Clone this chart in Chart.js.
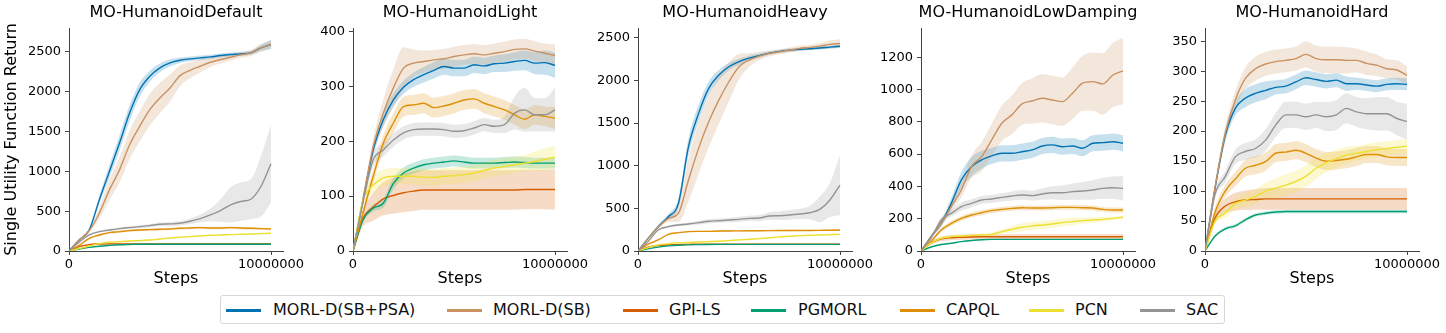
<!DOCTYPE html>
<html><head><meta charset="utf-8">
<script src="https://cdn.jsdelivr.net/npm/chart.js@4.4.1/dist/chart.umd.min.js"></script>
<style>
html,body{margin:0;padding:0;background:#fff;}
body{width:1446px;height:333px;overflow:hidden;position:relative;font-family:'DejaVu Sans',sans-serif;}
canvas{position:absolute;top:0;}
#legend{position:absolute;left:220px;top:295px;width:1005px;height:29px;border:1px solid #d6d6d6;border-radius:3px;background:#fff;box-sizing:border-box;}
.lg-line{position:absolute;height:3px;width:35px;top:13px;}
.lg-text{position:absolute;top:3px;font-size:16px;line-height:22px;color:#111;white-space:nowrap;}
</style>
</head><body>
<div id="legend"></div>
<script>
// ---------- data ----------
const steps = [0,500000,1000000,1500000,2000000,2500000,3000000,3500000,4000000,4500000,5000000,5500000,6000000,6500000,7000000,7500000,8000000,8500000,9000000,9500000,10000000];
const xTicks = [0, 10000000];
const seriesNames = ['MORL-D(SB+PSA)','MORL-D(SB)','GPI-LS','PGMORL','CAPQL','PCN','SAC'];
const seriesColors = ['#0173b2','#ca9161','#d55e00','#029e73','#de8f05','#ece133','#949494'];
const panelTitles = ['MO-HumanoidDefault','MO-HumanoidLight','MO-HumanoidHeavy','MO-HumanoidLowDamping','MO-HumanoidHard'];
const yTicksDefault = [0,500,1000,1500,2000,2500];
const yTicksLight = [0,100,200,300,400];
const yTicksHeavy = [0,500,1000,1500,2000,2500];
const yTicksLowDamping = [0,200,400,600,800,1000,1200];
const yTicksHard = [0,50,100,150,200,250,300,350];
const yMaxDefault = 2800, yMaxLight = 406, yMaxHeavy = 2614, yMaxLowDamping = 1381, yMaxHard = 372;
const xMax = 10594000;

// MO-HumanoidDefault (mean, half-band)
const def_SBPSA    = [0,138,264,642,998,1355,1732,2026,2194,2299,2362,2395,2412,2425,2437,2454,2467,2475,2488,2550,2593];
const def_SBPSA_sd = [0,10,20,50,80,100,100,90,70,55,45,35,30,30,28,25,25,25,25,40,60];
const def_SB       = [0,135,255,474,768,1019,1334,1565,1774,1921,2047,2202,2269,2320,2370,2404,2433,2462,2488,2550,2593];
const def_SB_sd    = [0,10,25,70,130,160,180,190,200,190,170,130,100,80,60,50,45,40,40,50,50];
const def_GPI      = [0,55,80,88,90,90,90,90,90,90,90,90,90,90,90,90,90,90,90,90,90];
const def_GPI_sd   = [0,8,10,12,12,12,12,12,12,12,12,12,12,12,12,12,12,12,12,12,12];
const def_PGM      = [0,25,45,60,70,78,82,85,85,85,85,85,85,85,85,85,85,85,85,85,85];
const def_PGM_sd   = [0,3,4,4,4,4,4,4,4,4,4,4,4,4,4,4,4,4,4,4,4];
const def_CAP      = [0,70,159,201,231,243,256,264,268,273,277,285,289,294,289,289,294,289,285,281,277];
const def_CAP_sd   = [0,8,12,15,15,15,15,15,15,15,15,15,15,15,15,15,15,15,15,15,15];
const def_PCN      = [0,30,63,92,109,117,126,130,138,151,164,172,180,189,197,201,206,210,214,218,222];
const def_PCN_sd   = [0,6,8,10,12,12,12,12,12,12,10,10,10,10,8,8,8,8,8,8,8];
const def_SAC      = [0,110,201,243,264,281,294,306,319,336,340,348,373,407,453,508,579,621,650,810,1095];
const def_SAC_sd   = [0,5,10,12,15,15,18,18,20,22,25,28,35,50,80,140,220,240,250,380,490];

// MO-HumanoidLight
const lig_SBPSA    = [0,93,184,239,275,298,312,321,329,336,333,333,339,337,341,342,345,347,342,343,338];
const lig_SBPSA_sd = [0,5,10,12,12,12,13,14,15,15,15,15,15,15,15,16,17,18,20,22,23];
const lig_SB       = [0,95,190,251,297,333,342,345,348,350,354,357,359,357,360,363,367,368,364,360,356];
const lig_SB_sd    = [0,8,15,25,35,38,25,20,18,18,18,18,18,18,18,18,18,18,18,18,20];
const lig_GPI      = [0,60,80,95,101,106,109,111,111,111,111,111,111,111,111,111,111,112,112,112,112];
const lig_GPI_sd   = [0,15,25,30,33,35,36,36,36,36,36,36,36,36,36,36,36,36,36,36,37];
const lig_PGM      = [0,57,78,87,123,142,151,157,160,162,164,162,160,160,160,161,162,161,160,160,160];
const lig_PGM_sd   = [0,4,6,8,10,10,10,10,10,10,10,10,10,10,10,10,10,10,10,10,10];
const lig_CAP      = [0,70,136,196,233,263,266,269,261,264,269,275,277,269,263,257,248,240,248,245,242];
const lig_CAP_sd   = [0,8,12,15,18,18,18,18,18,18,18,18,18,18,18,18,18,18,18,18,20];
const lig_PCN      = [0,93,120,133,136,136,136,134,134,136,137,139,142,147,151,154,157,160,163,167,171];
const lig_PCN_sd   = [0,10,15,15,15,15,15,15,15,15,15,15,15,15,15,15,15,15,18,20,20];
const lig_SAC      = [0,90,166,184,202,215,221,222,222,221,218,219,224,230,227,230,251,257,248,248,257];
const lig_SAC_sd   = [0,8,12,12,12,12,12,12,12,12,12,12,12,12,12,15,30,40,30,30,40];

// MO-HumanoidHeavy
const hea_SBPSA    = [0,148,285,402,558,1223,1613,1906,2062,2160,2219,2260,2290,2320,2340,2355,2363,2371,2379,2390,2400];
const hea_SBPSA_sd = [0,10,20,30,60,100,100,80,60,45,35,30,25,20,20,18,18,18,18,18,20];
const hea_SB       = [0,145,280,380,441,832,1203,1515,1769,1984,2160,2238,2285,2316,2336,2355,2375,2387,2402,2422,2433];
const hea_SB_sd    = [0,10,20,40,100,250,300,300,280,230,150,80,50,35,30,30,30,30,35,45,50];
const hea_GPI      = [0,45,65,72,75,78,80,80,80,80,80,80,80,80,80,80,80,80,80,80,80];
const hea_GPI_sd   = [0,4,5,5,5,5,5,5,5,5,5,5,5,5,5,5,5,5,5,5,5];
const hea_PGM      = [0,25,45,60,68,72,75,77,78,78,78,78,78,78,78,78,78,78,78,78,78];
const hea_PGM_sd   = [0,2,3,3,3,3,3,3,3,3,3,3,3,3,3,3,3,3,3,3,3];
const hea_CAP      = [0,80,129,195,215,227,230,230,234,235,236,237,238,239,240,240,241,241,242,244,246];
const hea_CAP_sd   = [0,6,8,8,8,8,8,8,8,8,8,8,8,8,8,8,8,8,8,8,8];
const hea_PCN      = [0,40,70,85,95,100,105,110,115,122,130,137,145,155,165,172,180,184,188,192,195];
const hea_PCN_sd   = [0,6,8,10,10,10,10,10,10,10,10,10,10,10,10,10,10,10,10,10,10];
const hea_SAC      = [0,110,246,285,305,316,332,348,355,363,371,383,387,410,414,422,434,449,488,598,773];
const hea_SAC_sd   = [0,5,10,12,15,18,20,25,25,25,30,30,35,45,50,55,60,80,150,200,350];

// MO-HumanoidLowDamping
const low_SBPSA    = [0,89,171,295,440,522,564,589,605,605,615,626,650,657,646,650,636,667,671,677,667];
const low_SBPSA_sd = [0,10,20,35,50,60,55,50,50,50,50,50,50,50,50,50,50,50,50,50,50];
const low_SB       = [0,89,171,275,378,522,584,688,791,843,911,929,946,935,925,977,1039,1049,1035,1090,1115];
const low_SB_sd    = [0,10,20,30,45,70,90,100,110,120,130,140,150,150,150,160,170,180,190,200,206];
const low_GPI      = [0,50,75,82,85,87,88,88,88,88,88,88,88,88,88,88,88,88,88,88,88];
const low_GPI_sd   = [0,10,14,15,15,15,15,15,15,15,15,15,15,15,15,15,15,15,15,15,15];
const low_PGM      = [0,25,40,48,58,65,70,72,72,72,72,72,72,72,72,72,72,72,72,72,72];
const low_PGM_sd   = [0,2,3,3,3,3,3,3,3,3,3,3,3,3,3,3,3,3,3,3,3];
const low_CAP      = [0,60,130,171,202,223,237,250,258,264,268,266,266,268,270,270,268,266,258,254,254];
const low_CAP_sd   = [0,8,12,15,15,15,15,15,15,15,15,15,15,15,15,15,15,15,15,15,15];
const low_PCN      = [0,50,78,89,93,97,99,103,120,134,147,155,161,167,176,182,188,192,196,202,209];
const low_PCN_sd   = [0,8,10,10,10,10,10,12,15,20,25,25,25,25,25,22,20,18,15,12,10];
const low_SAC      = [0,80,192,233,275,295,316,322,332,341,347,343,353,361,361,368,372,378,388,392,388];
const low_SAC_sd   = [0,8,15,20,25,25,25,25,25,28,30,30,35,40,45,50,55,60,65,70,75];

// MO-HumanoidHard
const har_SBPSA    = [0,105,192,238,255,263,268,273,275,282,289,286,283,285,279,279,277,275,278,279,278];
const har_SBPSA_sd = [0,5,10,12,15,15,15,12,12,12,12,12,12,12,12,10,10,10,10,10,10];
const har_SB       = [0,107,196,252,288,304,312,316,318,321,328,321,319,319,318,318,313,310,304,302,293];
const har_SB_sd    = [0,8,12,15,18,20,20,20,20,20,22,22,22,22,22,20,20,18,16,16,15];
const har_GPI      = [0,55,75,82,85,86,87,87,87,87,87,87,87,87,87,87,87,87,87,87,87];
const har_GPI_sd   = [0,8,12,15,16,17,18,18,18,18,18,18,18,18,18,18,18,18,18,18,18];
const har_PGM      = [0,25,37,42,52,60,63,65,66,66,66,66,66,66,66,66,66,66,66,66,66];
const har_PGM_sd   = [0,2,3,3,3,3,3,3,3,3,3,3,3,3,3,3,3,3,3,3,3];
const har_CAP      = [0,65,100,120,138,143,149,163,165,168,163,155,150,151,153,157,161,161,157,156,156];
const har_CAP_sd   = [0,8,10,12,14,15,15,15,15,15,15,15,15,15,15,15,14,14,14,14,14];
const har_PCN      = [0,50,63,79,85,91,100,105,110,116,125,138,147,154,160,163,166,169,171,173,175];
const har_PCN_sd   = [0,5,8,10,12,12,14,16,18,18,18,18,16,15,14,12,12,12,12,12,12];
const har_SAC      = [0,95,124,157,166,171,185,210,227,227,224,227,224,227,238,232,229,229,229,221,216];
const har_SAC_sd   = [0,6,10,12,14,15,18,20,22,22,22,22,24,25,25,25,26,28,28,28,30];

// ---------- rendering ----------
const FONT = "'DejaVu Sans', sans-serif";
function rgba(hex, a) {
  const n = parseInt(hex.slice(1), 16);
  return `rgba(${(n>>16)&255},${(n>>8)&255},${n&255},${a})`;
}
const panels = [
  {title: panelTitles[0], axisX: 69,  yw: 69, yTitle: true,  yMax: yMaxDefault, yTicks: yTicksDefault,
   means: [def_SBPSA,def_SB,def_GPI,def_PGM,def_CAP,def_PCN,def_SAC],
   sds:   [def_SBPSA_sd,def_SB_sd,def_GPI_sd,def_PGM_sd,def_CAP_sd,def_PCN_sd,def_SAC_sd]},
  {title: panelTitles[1], axisX: 353, yw: 50, yTitle: false, yMax: yMaxLight, yTicks: yTicksLight,
   means: [lig_SBPSA,lig_SB,lig_GPI,lig_PGM,lig_CAP,lig_PCN,lig_SAC],
   sds:   [lig_SBPSA_sd,lig_SB_sd,lig_GPI_sd,lig_PGM_sd,lig_CAP_sd,lig_PCN_sd,lig_SAC_sd]},
  {title: panelTitles[2], axisX: 638, yw: 50, yTitle: false, yMax: yMaxHeavy, yTicks: yTicksHeavy,
   means: [hea_SBPSA,hea_SB,hea_GPI,hea_PGM,hea_CAP,hea_PCN,hea_SAC],
   sds:   [hea_SBPSA_sd,hea_SB_sd,hea_GPI_sd,hea_PGM_sd,hea_CAP_sd,hea_PCN_sd,hea_SAC_sd]},
  {title: panelTitles[3], axisX: 921, yw: 50, yTitle: false, yMax: yMaxLowDamping, yTicks: yTicksLowDamping,
   means: [low_SBPSA,low_SB,low_GPI,low_PGM,low_CAP,low_PCN,low_SAC],
   sds:   [low_SBPSA_sd,low_SB_sd,low_GPI_sd,low_PGM_sd,low_CAP_sd,low_PCN_sd,low_SAC_sd]},
  {title: panelTitles[4], axisX: 1205, yw: 50, yTitle: false, yMax: yMaxHard, yTicks: yTicksHard,
   means: [har_SBPSA,har_SB,har_GPI,har_PGM,har_CAP,har_PCN,har_SAC],
   sds:   [har_SBPSA_sd,har_SB_sd,har_GPI_sd,har_PGM_sd,har_CAP_sd,har_PCN_sd,har_SAC_sd]}
];

const titlePlugin = {
  id: 'panelTitle',
  afterDraw(chart, args, opts) {
    const {ctx, chartArea} = chart;
    ctx.save();
    ctx.font = `16px ${FONT}`;
    ctx.fillStyle = '#000';
    ctx.textAlign = 'center';
    ctx.textBaseline = 'middle';
    ctx.fillText(opts.text, (chartArea.left + chartArea.right) / 2, 13);
    ctx.restore();
  }
};

const AX = '#444';
panels.forEach((p) => {
  const R = 45, PW = 214, H = 290;
  const W = p.yw + PW + R;
  const canvas = document.createElement('canvas');
  canvas.width = W; canvas.height = H;
  canvas.style.left = (p.axisX - p.yw) + 'px';
  canvas.style.width = W + 'px'; canvas.style.height = H + 'px';
  document.body.appendChild(canvas);

  const datasets = [];
  p.means.forEach((m, k) => {
    const sd = p.sds[k];
    datasets.push({
      data: steps.map((x, i) => ({x, y: m[i] + sd[i]})),
      borderWidth: 0, borderColor: 'transparent', pointRadius: 0, fill: false,
      cubicInterpolationMode: 'monotone', order: 200 - k
    });
    datasets.push({
      data: steps.map((x, i) => ({x, y: Math.max(0, m[i] - sd[i])})),
      borderWidth: 0, borderColor: 'transparent', pointRadius: 0, fill: '-1',
      backgroundColor: rgba(seriesColors[k], 0.22),
      cubicInterpolationMode: 'monotone', order: 200 - k
    });
  });
  p.means.forEach((m, k) => {
    datasets.push({
      label: seriesNames[k],
      data: steps.map((x, i) => ({x, y: m[i]})),
      borderColor: seriesColors[k], borderWidth: 1.4, pointRadius: 0, fill: false,
      cubicInterpolationMode: 'monotone', order: 100 - k
    });
  });

  new Chart(canvas, {
    type: 'line',
    data: {datasets},
    plugins: [titlePlugin],
    options: {
      responsive: false, animation: false, devicePixelRatio: 1,
      layout: {padding: {left: 0, top: 28, right: R, bottom: 0}},
      plugins: {
        legend: {display: false}, tooltip: {enabled: false}, title: {display: false},
        panelTitle: {text: p.title}
      },
      scales: {
        x: {
          type: 'linear', min: 0, max: xMax,
          afterBuildTicks: (s) => { s.ticks = xTicks.map(v => ({value: v})); },
          afterFit: (s) => { s.height = 39; },
          grid: {drawOnChartArea: false, drawTicks: true, tickLength: 4, color: AX, lineWidth: 1},
          border: {display: true, color: AX, width: 1},
          ticks: {color: '#000', font: {family: FONT, size: 13}, padding: 2, maxRotation: 0, minRotation: 0,
                  autoSkip: false, callback: (v) => String(v)},
          title: {display: true, text: 'Steps', color: '#000', font: {family: FONT, size: 16}, padding: {top: 0, bottom: 2}}
        },
        y: {
          type: 'linear', min: 0, max: p.yMax,
          afterBuildTicks: (s) => { s.ticks = p.yTicks.map(v => ({value: v})); },
          afterFit: (s) => { s.width = p.yw; },
          grid: {drawOnChartArea: false, drawTicks: true, tickLength: 4, color: AX, lineWidth: 1},
          border: {display: true, color: AX, width: 1},
          ticks: {color: '#000', font: {family: FONT, size: 13}, padding: 4, autoSkip: false,
                  callback: (v) => String(v)},
          title: {display: p.yTitle, text: 'Single Utility Function Return', color: '#000',
                  font: {family: FONT, size: 16}, padding: {top: 2, bottom: 0}}
        }
      }
    }
  });
});

// ---------- legend ----------
const legend = document.getElementById('legend');
const lineStarts = [5, 226, 402, 530, 679, 808, 919];
const textStarts = [52, 272, 448, 577, 725, 854, 965];
seriesNames.forEach((name, k) => {
  const l = document.createElement('div');
  l.className = 'lg-line';
  l.style.left = lineStarts[k] + 'px';
  l.style.background = seriesColors[k];
  legend.appendChild(l);
  const t = document.createElement('div');
  t.className = 'lg-text';
  t.style.left = textStarts[k] + 'px';
  t.textContent = name;
  legend.appendChild(t);
});
</script>
</body></html>
